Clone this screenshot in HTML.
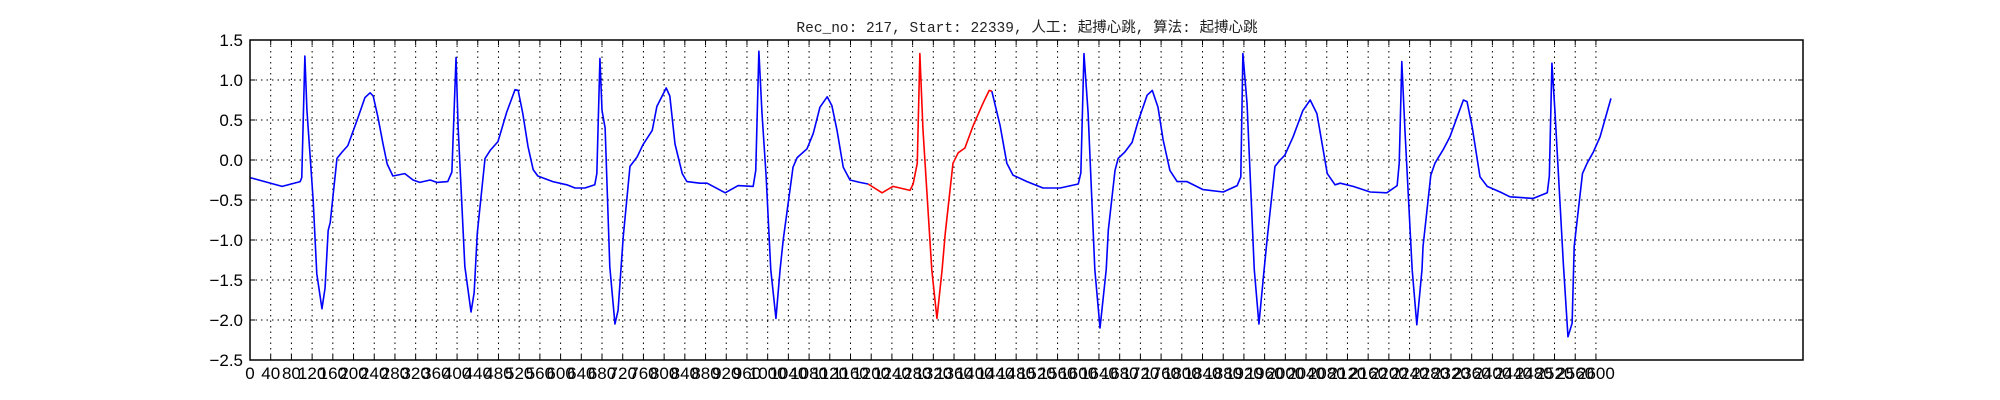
<!DOCTYPE html>
<html><head><meta charset="utf-8"><style>
html,body{margin:0;padding:0;background:#fff;}
svg{display:block;}
</style></head><body>
<svg id="chart" width="2000" height="400" xmlns="http://www.w3.org/2000/svg">
<rect width="2000" height="400" fill="#fff"/>
<text x="1027" y="32" text-anchor="middle" font-family="'Liberation Mono','Noto Sans CJK SC',monospace" font-size="14.5" fill="#222">Rec_no: 217, Start: 22339, 人工: 起搏心跳, 算法: 起搏心跳</text>
<g id="grid"></g>
<g id="ticks"></g>
<g id="series"></g>
<rect x="250" y="40" width="1553" height="320" fill="none" stroke="#000" stroke-width="1.5"/>
</svg>
<script>
const sampleIdx = [0,62,97,100,106,110,122,129,139,145,151,155,168,178,189,207,222,232,238,247,257,265,276,299,315,328,348,361,382,390,398,402,415,427,433,439,454,464,479,496,512,518,527,537,547,556,585,612,628,647,666,670,676,680,686,695,705,711,721,734,748,759,777,786,804,811,821,835,844,869,883,918,943,972,977,983,989,997,1006,1016,1024,1030,1049,1057,1076,1088,1101,1115,1124,1134,1146,1159,1178,1194,1221,1242,1275,1281,1289,1294,1300,1317,1327,1337,1343,1358,1368,1381,1397,1416,1428,1433,1449,1462,1474,1501,1532,1565,1600,1605,1611,1619,1632,1642,1654,1658,1671,1677,1690,1704,1715,1733,1743,1754,1764,1777,1791,1810,1841,1880,1907,1914,1918,1926,1940,1949,1959,1965,1980,1990,1999,2015,2034,2048,2061,2081,2096,2106,2131,2164,2196,2216,2220,2225,2231,2245,2254,2264,2266,2281,2289,2305,2318,2332,2344,2351,2361,2376,2390,2415,2434,2479,2506,2510,2515,2521,2537,2546,2554,2558,2574,2583,2595,2608,2629];
const ecgValues = [-0.22,-0.33,-0.27,-0.22,1.3,0.62,-0.5,-1.42,-1.86,-1.6,-0.88,-0.78,0.02,0.1,0.18,0.5,0.78,0.84,0.8,0.54,0.2,-0.05,-0.2,-0.17,-0.25,-0.28,-0.25,-0.28,-0.27,-0.15,1.28,0.42,-1.33,-1.9,-1.66,-0.92,0.02,0.12,0.23,0.6,0.88,0.87,0.58,0.17,-0.12,-0.2,-0.27,-0.31,-0.35,-0.35,-0.31,-0.17,1.27,0.62,0.4,-1.33,-2.05,-1.88,-0.96,-0.08,0.04,0.19,0.37,0.67,0.9,0.8,0.2,-0.17,-0.27,-0.29,-0.29,-0.41,-0.32,-0.33,-0.13,1.36,0.59,-0.2,-1.37,-1.98,-1.37,-1.0,-0.09,0.03,0.14,0.33,0.66,0.79,0.68,0.37,-0.09,-0.25,-0.28,-0.30,-0.41,-0.33,-0.38,-0.3,-0.04,1.33,0.38,-1.37,-1.98,-1.37,-0.92,-0.04,0.09,0.15,0.43,0.71,0.87,0.86,0.43,-0.04,-0.19,-0.27,-0.35,-0.35,-0.3,-0.16,1.33,0.59,-1.37,-2.1,-1.37,-0.88,-0.13,0.02,0.1,0.22,0.47,0.81,0.87,0.66,0.25,-0.13,-0.27,-0.27,-0.37,-0.4,-0.32,-0.21,1.33,0.71,-1.37,-2.05,-1.37,-0.98,-0.08,0.0,0.06,0.29,0.62,0.75,0.58,-0.17,-0.31,-0.29,-0.33,-0.4,-0.41,-0.32,-0.04,1.23,0.38,-1.37,-2.06,-1.37,-1.08,-0.19,-0.04,0.13,0.29,0.54,0.75,0.73,0.41,-0.21,-0.33,-0.4,-0.46,-0.48,-0.41,-0.2,1.21,0.59,-1.29,-2.21,-2.04,-1.08,-0.17,-0.04,0.1,0.29,0.77];
const highlightStart = 1194;
const highlightEnd = 1433;
const yTickValues = [1.5,1.0,0.5,0.0,-0.5,-1.0,-1.5,-2.0,-2.5];
const yTickLabels = ["1.5","1.0","0.5","0.0","\u22120.5","\u22121.0","\u22121.5","\u22122.0","\u22122.5"];
const xTickValues = [];
for (let t = 0; t <= 2600; t += 40) xTickValues.push(t);

const X0=250,X1=1803,Y0=40,Y1=360,XMIN=0,XMAX=3000,YMIN=-2.5,YMAX=1.5;
function xs(u){return X0+(u-XMIN)/(XMAX-XMIN)*(X1-X0);}
function ys(v){return Y1-(v-YMIN)/(YMAX-YMIN)*(Y1-Y0);}
const NS='http://www.w3.org/2000/svg';
function mk(tag,attrs,parent){const e=document.createElementNS(NS,tag);for(const k in attrs)e.setAttribute(k,attrs[k]);parent.appendChild(e);return e;}
const grid=document.getElementById('grid'),ticks=document.getElementById('ticks'),series=document.getElementById('series');
const FONT="'Liberation Sans','DejaVu Sans',sans-serif";
yTickValues.forEach((v,i)=>{
  const y=ys(v);
  if(v<YMAX&&v>YMIN){
    const g=mk('line',{x1:X0,x2:X1,y1:y,y2:y,stroke:'#000','stroke-width':1,'stroke-dasharray':'1.5,4'},grid);
    
    
  }
  const t1=mk('line',{x1:X0,x2:X0+5,y1:y,y2:y,stroke:'#000'},ticks);
  
  
  const t2=mk('line',{x1:X1-5,x2:X1,y1:y,y2:y,stroke:'#000'},ticks);
  
  
  const lb=mk('text',{x:X0-7,y:y+6,'text-anchor':'end','font-family':FONT,'font-size':17,fill:'#000'},ticks);
  lb.textContent=yTickLabels[i];
  
  
});
xTickValues.forEach(u=>{
  const x=xs(u);
  if(u>XMIN){
    const g=mk('line',{x1:x,x2:x,y1:Y0,y2:Y1,stroke:'#000','stroke-width':1,'stroke-dasharray':'1.5,4'},grid);
    
    
  }
  const t1=mk('line',{x1:x,x2:x,y1:Y1-5,y2:Y1,stroke:'#000'},ticks);
  
  
  const t2=mk('line',{x1:x,x2:x,y1:Y0,y2:Y0+5,stroke:'#000'},ticks);
  
  
  const lb=mk('text',{x:x,y:Y1+19,'text-anchor':'middle','font-family':FONT,'font-size':17,fill:'#000'},ticks);
  lb.textContent=String(u);
  
  
});
function pathFor(filter){
  let d='',started=false;
  for(let i=0;i<sampleIdx.length;i++){
    if(filter(sampleIdx[i])){d+=(started?'L':'M')+xs(sampleIdx[i]).toFixed(2)+','+ys(ecgValues[i]).toFixed(2);started=true;}
    else started=false;
  }
  return d;
}
const blueA=mk('path',{d:pathFor(u=>u<=highlightStart),fill:'none',stroke:'#0000ff','stroke-width':1.6,'stroke-linejoin':'round'},series);


const blueB=mk('path',{d:pathFor(u=>u>=highlightEnd),fill:'none',stroke:'#0000ff','stroke-width':1.6,'stroke-linejoin':'round'},series);


const red=mk('path',{d:pathFor(u=>u>=highlightStart&&u<=highlightEnd),fill:'none',stroke:'#ff0000','stroke-width':1.6,'stroke-linejoin':'round'},series);


</script>
</body></html>
